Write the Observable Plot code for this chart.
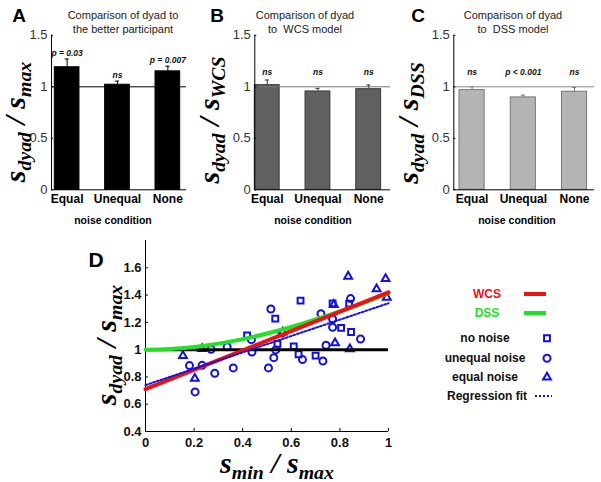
<!DOCTYPE html>
<html><head><meta charset="utf-8">
<script src="https://cdn.jsdelivr.net/npm/d3@7"></script>
<script src="https://cdn.jsdelivr.net/npm/@observablehq/plot@0.6"></script>
<style>
body{margin:0;background:#fff;}
#root{position:relative;width:601px;height:482px;overflow:hidden;background:#fff;font-family:Arial,"Liberation Sans",sans-serif;}
#root svg{position:absolute;}
</style></head><body><div id="root"></div>
<script>
// ---------- Panels A-C data ----------
const conditions = ["Equal", "Unequal", "None"];
const ratioMax = [1.19, 1.02, 1.15];
const errMax = [0.08, 0.035, 0.05];
const pMax = ["p = 0.03", "ns", "p = 0.007"];
const ratioWCS = [1.016, 0.955, 0.977];
const errWCS = [0.05, 0.03, 0.04];
const pWCS = ["ns", "ns", "ns"];
const ratioDSS = [0.968, 0.897, 0.952];
const errDSS = [0.033, 0.022, 0.042];
const pDSS = ["ns", "p < 0.001", "ns"];
const barTicks = [0, 0.5, 1, 1.5];

// ---------- Panel D data ----------
const noNoiseX = [0.418, 0.534, 0.543, 0.610, 0.630, 0.638, 0.700, 0.770, 0.805, 0.838, 0.846];
const noNoiseY = [1.105, 1.227, 1.042, 1.024, 0.966, 1.359, 0.956, 1.339, 1.159, 1.337, 1.129];
const unequalX = [0.181, 0.204, 0.233, 0.270, 0.285, 0.336, 0.361, 0.436, 0.438, 0.506, 0.516, 0.528, 0.536, 0.562, 0.646, 0.722, 0.730, 0.743, 0.770, 0.770, 0.844, 0.885];
const unequalY = [0.883, 0.690, 0.885, 1.002, 0.827, 1.022, 0.866, 1.073, 0.983, 0.866, 1.298, 0.941, 0.998, 1.122, 0.927, 1.264, 0.917, 1.032, 1.225, 1.164, 1.374, 1.078];
const equalX = [0.154, 0.203, 0.233, 0.565, 0.775, 0.780, 0.834, 0.841, 0.951, 0.988, 0.993];
const equalY = [0.956, 0.788, 1.007, 1.127, 1.330, 1.049, 1.537, 1.005, 1.444, 1.520, 1.383];
const wcsX = [0, 1];
const wcsY = [0.71, 1.42];
const dssX = [0, 0.1, 0.2, 0.3, 0.4, 0.5, 0.6, 0.7, 0.8, 0.9, 1];
const dssY = [1.0, 1.005, 1.02, 1.044, 1.077, 1.118, 1.166, 1.221, 1.281, 1.345, 1.414];
const regX = [0, 1];
const regY = [0.74, 1.34];
const dTicksX = [0, 0.2, 0.4, 0.6, 0.8, 1];
const dTicksY = [0.4, 0.6, 0.8, 1, 1.2, 1.4, 1.6];

const root = document.getElementById("root");
const FONT = "Arial, 'Liberation Sans', sans-serif";
const SERIF = "'Liberation Serif','Times New Roman',serif";

function ratioLabel(svg, {x, y, rotate, size, sub, denomSub}) {
  const t = svg.append("text")
    .attr("transform", rotate ? `translate(${x},${y}) rotate(-90)` : `translate(${x},${y})`)
    .attr("text-anchor", "middle")
    .attr("font-family", SERIF)
    .attr("font-weight", "bold").attr("font-style", "italic").attr("fill", "#000");
  t.append("tspan").attr("font-size", size).text("s");
  t.append("tspan").attr("font-size", size * 0.66).attr("dy", size * 0.2).text(sub);
  t.append("tspan").attr("font-size", size).attr("dy", -size * 0.2).text(" / ");
  t.append("tspan").attr("font-size", size).text("s");
  t.append("tspan").attr("font-size", size * 0.66).attr("dy", size * 0.2).text(denomSub);
}

function barPanel(o) {
  const data = conditions.map((c, i) => ({i: i + 1, c, v: o.values[i], e: o.errs[i], p: o.labels[i]}));
  const hw = 0.245;
  const x0 = o.xDomain[0];
  const plot = Plot.plot({
    width: o.width, height: 240,
    marginLeft: o.mLeft, marginRight: o.mRight, marginTop: 34.8, marginBottom: 240 - 189.3,
    style: {fontFamily: FONT, background: "transparent", overflow: "visible"},
    x: {domain: o.xDomain, axis: null},
    y: {domain: [0, 1.5], axis: null},
    marks: [
      Plot.rect(data, {x1: d => d.i - hw, x2: d => d.i + hw, y1: 0, y2: "v", fill: o.fill, stroke: o.stroke, strokeWidth: 1}),
      Plot.ruleX(data, {x: "i", y1: "v", y2: d => d.v + d.e, stroke: o.errColor, strokeWidth: 1}),
      Plot.ruleY(data, {y: d => d.v + d.e, x1: d => d.i - 0.04, x2: d => d.i + 0.04, stroke: o.errColor, strokeWidth: 1}),
      Plot.ruleY([1], {stroke: o.refColor, strokeWidth: 1}),
      Plot.ruleX([x0], {stroke: "#000", strokeWidth: 1}),
      Plot.ruleY([0], {stroke: "#000", strokeWidth: 1}),
      Plot.ruleY(barTicks, {y: d => d, x1: x0, x2: x0 + 0.04, stroke: "#000"}),
      Plot.text(data, {x: "i", y: o.labelY != null ? () => o.labelY : (d => d.v + d.e), text: "p",
        lineAnchor: "bottom", dy: o.labelY != null ? -2 : -3, fontStyle: "italic", fontWeight: "bold", fontSize: 8.5, fill: "#111"}),
      Plot.axisX({ticks: [1, 2, 3], tickFormat: i => conditions[i - 1], tickSize: 0, tickPadding: 5,
        fontSize: 12, fontWeight: "bold", fill: "#000", label: null}),
      Plot.axisY({ticks: barTicks, tickFormat: d => String(d), tickSize: 0, tickPadding: 4,
        fontSize: 13, fill: "#333", label: null})
    ]
  });
  plot.style.left = o.left + "px";
  plot.style.top = "0px";
  root.appendChild(plot);
  const svg = d3.select(plot);
  svg.append("text").attr("x", o.letterX).attr("y", 22).attr("font-family", FONT)
    .attr("font-weight", "bold").attr("font-size", 19).attr("fill", "#000").text(o.letter);
  o.title.forEach((line, k) => {
    svg.append("text").attr("x", o.titleX).attr("y", 19 + k * 13.5).attr("text-anchor", "middle")
      .attr("font-family", FONT).attr("font-size", 11).attr("fill", "#222").text(line);
  });
  svg.append("text").attr("x", o.ncX).attr("y", 224).attr("text-anchor", "middle")
    .attr("font-family", FONT).attr("font-weight", "bold").attr("font-size", 10.5).attr("fill", "#000")
    .text("noise condition");
  ratioLabel(svg, {x: o.ylX, y: o.ylY, rotate: true, size: 30, sub: "dyad", denomSub: o.denomSub});
}

barPanel({left: 0, width: 200, mLeft: 51, mRight: 14, xDomain: [0.69, 3.37],
  values: ratioMax, errs: errMax, labels: pMax, fill: "#000", stroke: "#000", errColor: "#000", refColor: "#000",
  labelY: null, letter: "A", letterX: 19, title: ["Comparison of dyad to", "the better participant"], titleX: 123,
  ncX: 113, ylX: 25, ylY: 122, denomSub: "max"});
barPanel({left: 200, width: 200, mLeft: 54.3, mRight: 10, xDomain: [0.755, 3.43],
  values: ratioWCS, errs: errWCS, labels: pWCS, fill: "#606060", stroke: "#3a3a3a", errColor: "#333", refColor: "#777",
  labelY: 1.10, letter: "B", letterX: 17, title: ["Comparison of dyad", "to  WCS model"], titleX: 105,
  ncX: 113, ylX: 18.5, ylY: 120, denomSub: "WCS"});
barPanel({left: 400, width: 201, mLeft: 53.3, mRight: 7, xDomain: [0.643, 3.39],
  values: ratioDSS, errs: errDSS, labels: pDSS, fill: "#b4b4b4", stroke: "#777", errColor: "#777", refColor: "#888",
  labelY: 1.10, letter: "C", letterX: 18, title: ["Comparison of dyad", "to  DSS model"], titleX: 113,
  ncX: 117, ylX: 18, ylY: 123, denomSub: "DSS"});

// ---------- Panel D ----------
const BLUE = "#1010e6";
const DASH = "2,2";
const pts = (xs, ys) => xs.map((x, i) => ({x, y: ys[i]}));
const dPlot = Plot.plot({
  width: 601, height: 252,
  marginLeft: 145, marginRight: 213, marginTop: 10, marginBottom: 51,
  style: {fontFamily: FONT, background: "transparent", overflow: "visible"},
  x: {domain: [0, 1], axis: null},
  y: {domain: [0.4, 1.8], axis: null},
  marks: [
    Plot.ruleX([0], {stroke: "#000", strokeWidth: 1}),
    Plot.ruleY([0.4], {stroke: "#000", strokeWidth: 1}),
    Plot.ruleY(dTicksY, {y: d => d, x1: 0, x2: 0.012, stroke: "#000"}),
    Plot.ruleX(dTicksX, {x: d => d, y1: 0.4, y2: 0.422, stroke: "#000"}),
    Plot.dot(pts(noNoiseX, noNoiseY), {x: "x", y: "y", symbol: "square", r: 3.3, stroke: BLUE, strokeWidth: 2, fill: "none"}),
    Plot.dot(pts(unequalX, unequalY), {x: "x", y: "y", symbol: "circle", r: 3.5, stroke: BLUE, strokeWidth: 2, fill: "none"}),
    Plot.dot(pts(equalX, equalY), {x: "x", y: "y", symbol: "triangle", r: 2.9, stroke: BLUE, strokeWidth: 2, fill: "none"}),
    Plot.ruleY([1], {x1: 0, x2: 1, stroke: "#000", strokeWidth: 3}),
    Plot.line(pts(dssX, dssY), {x: "x", y: "y", stroke: "#22e022", strokeWidth: 4, curve: "monotone-x"}),
    Plot.line(pts(wcsX, wcsY), {x: "x", y: "y", stroke: "#ee1111", strokeWidth: 4}),
    Plot.line(pts(regX, regY), {x: "x", y: "y", stroke: BLUE, strokeWidth: 2, strokeDasharray: DASH}),
    Plot.axisX({ticks: dTicksX, tickFormat: d => String(d), tickSize: 0, tickPadding: 6,
      fontSize: 13, fontWeight: "bold", fill: "#111", label: null}),
    Plot.axisY({ticks: dTicksY, tickFormat: d => String(d), tickSize: 0, tickPadding: 4,
      fontSize: 13, fontWeight: "bold", fill: "#111", label: null})
  ]
});
dPlot.style.left = "0px";
dPlot.style.top = "230px";
root.appendChild(dPlot);
const dsvg = d3.select(dPlot);
dsvg.append("text").attr("x", 96).attr("y", 37).attr("font-family", FONT)
  .attr("font-weight", "bold").attr("font-size", 21).attr("fill", "#000").text("D");
ratioLabel(dsvg, {x: 116, y: 115, rotate: true, size: 30, sub: "dyad", denomSub: "max"});
ratioLabel(dsvg, {x: 277, y: 243, rotate: false, size: 30, sub: "min", denomSub: "max"});

// legend
const lg = dsvg.append("g").attr("font-family", FONT).attr("font-weight", "bold").attr("font-size", 12);
lg.append("text").attr("x", 487).attr("y", 68).attr("fill", "#ee1111").text("WCS");
lg.append("line").attr("x1", 524).attr("x2", 546).attr("y1", 64).attr("y2", 64).attr("stroke", "#ee1111").attr("stroke-width", 4);
lg.append("text").attr("x", 487).attr("y", 87).attr("fill", "#22e022").text("DSS");
lg.append("line").attr("x1", 524).attr("x2", 546).attr("y1", 83).attr("y2", 83).attr("stroke", "#22e022").attr("stroke-width", 4);
const items = [["no noise", 108.3, d3.symbolSquare, 3.3], ["unequal noise", 128.3, d3.symbolCircle, 3.5], ["equal noise", 147.3, d3.symbolTriangle, 2.9]];
items.forEach(([label, y, sym, r]) => {
  lg.append("text").attr("x", 485).attr("y", y + 4).attr("text-anchor", "middle").attr("fill", "#111").text(label);
  lg.append("path").attr("transform", `translate(547,${y})`).attr("d", d3.symbol(sym, Math.PI * r * r)())
    .attr("fill", "none").attr("stroke", BLUE).attr("stroke-width", 2);
});
lg.append("text").attr("x", 487).attr("y", 170).attr("text-anchor", "middle").attr("fill", "#111").text("Regression fit");
lg.append("line").attr("x1", 535).attr("x2", 552).attr("y1", 166).attr("y2", 166).attr("stroke", BLUE)
  .attr("stroke-width", 2).attr("stroke-dasharray", DASH);
</script></body></html>
